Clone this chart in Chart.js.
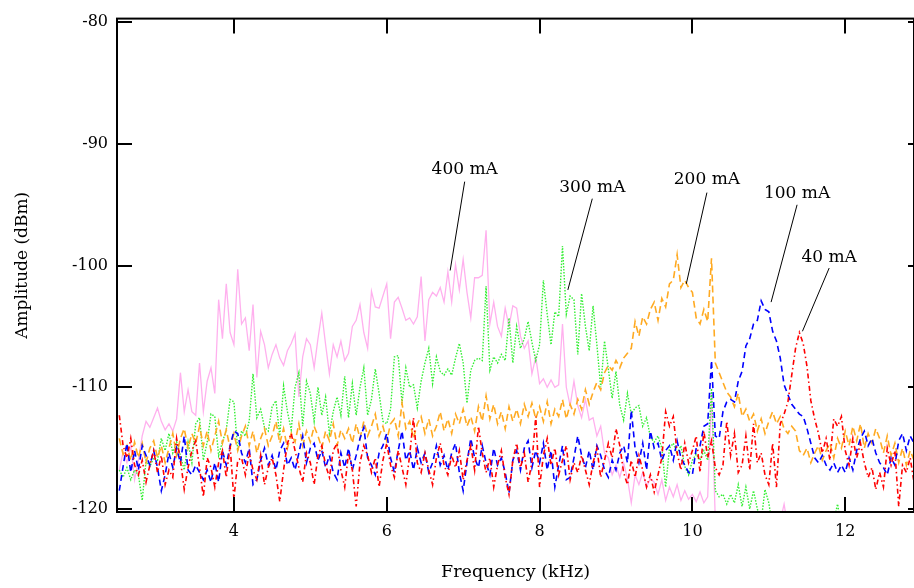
<!DOCTYPE html>
<html lang="en">
<head>
    <meta charset="UTF-8">
    <title>Amplitude vs Frequency</title>
    <script src="https://cdn.jsdelivr.net/npm/chart.js"></script>
    <style>
        html, body {
            margin: 0;
            padding: 0;
            background: #fff;
        }
        #chartBox {
            width: 914px;
            height: 588px;
        }
    </style>
</head>
<body>
    <div id="chartBox">
        <canvas id="spectrumChart"></canvas>
    </div>

    <script>
        // frequency axis of the sweep (kHz), 0.05 kHz per sample
        const freqStart = 2.5;
        const freqStep = 0.05;
        const freqCount = 209;

        const xTickValues = [4, 6, 8, 10, 12];
        const yTickValues = [-80, -90, -100, -110, -120];

        const seriesNames = ['40 mA', '100 mA', '200 mA', '300 mA', '400 mA'];

        // amplitudes in dBm, one row per 0.5 kHz
        const amp40 = [
            -112.3, -114.8, -115.8, -114.2, -116.4, -117.2, -116.0, -117.8, -116.4, -115.2,
            -117.0, -115.6, -118.0, -116.8, -117.4, -114.2, -116.0, -118.4, -116.6, -115.2,
            -114.4, -116.6, -119.0, -115.8, -116.6, -118.2, -116.2, -115.2, -117.4, -114.8,
            -119.2, -116.0, -115.8, -117.2, -115.4, -116.8, -117.6, -115.6, -118.0, -116.6,
            -115.8, -117.2, -119.4, -116.8, -114.6, -113.8, -115.2, -116.6, -117.8, -115.4,
            -116.2, -118.0, -115.6, -114.8, -116.4, -117.4, -115.2, -114.6, -116.8, -118.2,
            -115.4, -116.8, -119.8, -116.2, -114.8, -115.6, -117.0, -115.8, -118.2, -116.0,
            -114.6, -116.4, -117.4, -115.2, -116.6, -118.0, -115.6, -112.5, -116.2, -117.0,
            -115.4, -116.8, -118.0, -115.8, -114.6, -116.4, -117.2, -115.6, -116.6, -115.2,
            -117.6, -116.0, -114.8, -116.8, -113.2, -115.4, -117.0, -115.8, -118.2, -116.4,
            -115.2, -117.4, -118.8, -116.0, -114.6, -116.6, -115.4, -117.8, -116.2, -112.4,
            -118.2, -115.6, -114.2, -116.4, -115.0, -117.2, -116.0, -114.8, -117.6, -116.2,
            -117.0, -115.6, -116.8, -118.0, -116.2, -115.0, -117.4, -116.0, -114.6, -115.8,
            -113.4, -114.8, -117.0, -118.0, -116.0, -117.4, -115.6, -116.8, -118.2, -117.2,
            -118.6, -117.2, -115.8, -112.0, -113.2, -112.4, -115.4, -116.8, -114.6, -116.2,
            -115.2, -114.0, -117.0, -113.6, -115.8, -114.4, -116.6, -117.2, -116.4, -112.8,
            -115.6, -113.8, -117.0, -116.4, -114.0, -116.8, -113.0, -116.2, -115.4, -117.2,
            -118.0, -114.6, -118.2, -113.0, -112.2, -111.2, -109.0, -106.8, -105.5, -106.4,
            -108.3, -111.1, -112.6, -113.8, -115.4, -114.2, -116.0, -112.6, -113.2, -112.4,
            -115.2, -116.4, -114.2, -115.8, -114.6, -116.2, -117.4, -116.6, -118.4, -117.0,
            -118.2, -115.0, -116.4, -115.2, -119.8, -116.4, -117.0, -115.8, -117.8
        ];

        const amp100 = [
            -118.5, -116.5, -114.6, -117.0, -115.2, -116.8, -114.8, -115.6, -116.4, -115.2,
            -116.6, -118.5, -117.2, -115.4, -116.6, -115.0, -116.2, -114.0, -116.8, -117.2,
            -116.4, -117.0, -117.6, -116.8, -117.8, -116.2, -117.8, -115.2, -116.4, -114.8,
            -113.6, -113.8, -115.4, -116.2, -115.0, -118.0, -117.6, -116.0, -115.0, -116.4,
            -115.6, -116.8, -115.2, -114.6, -116.4, -115.8, -116.8, -115.4, -114.0, -116.2,
            -115.0, -114.6, -116.0, -115.2, -116.6, -115.6, -117.0, -117.6, -115.4, -116.6,
            -115.0, -116.8, -115.6, -114.2, -113.3, -115.8, -116.4, -117.2, -115.4, -114.8,
            -113.8, -115.8, -117.0, -115.2, -113.6, -116.0, -115.2, -116.8, -115.0, -116.2,
            -115.4, -117.0, -116.2, -114.8, -116.4, -115.6, -116.8, -115.4, -114.6, -117.0,
            -118.5, -116.2, -114.2, -115.8, -116.6, -114.8, -116.2, -117.2, -115.0, -116.4,
            -115.8, -117.0, -118.7, -116.0, -115.2, -116.8, -115.0, -114.4, -116.6, -115.2,
            -116.2, -114.6, -116.8, -115.2, -118.2, -116.4, -114.8, -117.6, -117.4, -115.8,
            -114.0, -115.6, -116.6, -115.2, -116.8, -114.8, -115.6, -116.8, -117.4, -116.0,
            -116.8, -115.4, -114.8, -116.2, -111.9, -115.0, -116.2, -114.6, -116.8, -113.6,
            -115.0, -114.6, -116.0, -115.2, -114.8, -116.0, -114.4, -115.8, -116.4, -117.0,
            -117.2, -115.0, -114.8, -113.2, -113.0, -107.8, -114.0, -114.2, -112.0, -111.2,
            -111.0, -111.2, -109.5, -108.7, -106.6, -106.0, -104.8, -104.5, -102.9, -103.6,
            -103.8, -105.4, -106.2, -107.6, -109.8, -110.6, -111.4, -111.8, -112.2, -112.4,
            -113.4, -114.6, -115.8, -116.2, -115.6, -116.4, -116.8, -116.2, -117.0, -116.4,
            -117.0, -115.8, -116.8, -115.2, -114.2, -113.6, -114.8, -114.2, -115.4, -116.2,
            -116.6, -117.2, -115.8, -116.4, -114.4, -113.8, -115.2, -114.0, -114.6
        ];

        const amp200 = [
            -114.2, -115.5, -114.8, -116.0, -114.5, -115.8, -114.6, -116.2, -115.0, -114.4,
            -115.8, -114.8, -116.2, -115.0, -113.8, -115.6, -114.2, -113.4, -115.0, -113.8,
            -114.6, -113.2, -114.8, -113.6, -115.2, -114.0, -112.8, -114.6, -113.5, -115.0,
            -113.8, -115.2, -114.0, -113.2, -114.8, -113.6, -115.4, -114.2, -113.4, -114.8,
            -114.0, -112.8, -114.6, -113.4, -115.0, -113.8, -114.5, -113.0, -114.8, -113.6,
            -114.5, -113.2, -114.0, -115.0, -113.6, -114.4, -113.0, -114.8, -113.5, -114.2,
            -113.4, -114.6, -113.0, -114.2, -112.8, -114.0, -113.2, -112.2, -114.0, -113.2,
            -114.4, -113.0, -112.6, -114.0, -111.3, -113.4, -112.8, -114.2, -113.0, -112.4,
            -113.8, -112.6, -114.0, -113.2, -112.0, -113.6, -112.6, -113.8, -112.2, -113.0,
            -111.8, -113.2, -112.4, -113.6, -111.6, -112.8, -110.7, -112.6, -111.4, -113.0,
            -112.0, -113.4, -111.6, -112.8, -111.8, -113.0, -111.4, -112.4, -111.3, -112.6,
            -111.6, -112.8, -111.2, -113.0, -111.8, -112.4, -111.0, -112.6, -111.4, -112.2,
            -111.0, -111.8, -110.2, -111.4, -110.4, -109.6, -110.2, -108.8, -108.2, -108.6,
            -107.8, -108.4, -107.6, -107.2, -106.8, -104.6, -105.8, -104.2, -104.8, -103.6,
            -103.0, -104.5, -102.7, -103.4, -101.5, -101.2, -99.1, -101.8, -101.2, -101.8,
            -102.2, -104.3, -104.8, -103.6, -104.6, -99.4, -108.0, -108.8, -109.6, -110.4,
            -110.8, -111.6, -110.5, -112.4, -111.8, -112.8, -112.2, -113.6, -112.6, -113.8,
            -112.8, -112.0, -113.0, -112.4, -113.4, -113.8, -113.2, -113.6, -115.2, -115.6,
            -115.0, -116.2, -115.4, -114.8, -116.0, -115.2, -114.6, -115.8, -114.2, -115.0,
            -113.6, -114.8, -113.2, -114.4, -113.0, -115.0, -113.8, -114.6, -113.4, -114.2,
            -115.4, -114.0, -115.6, -114.6, -116.2, -115.0, -116.4, -115.2, -116.0
        ];

        const amp300 = [
            -116.8, -117.4, -116.6, -117.6, -116.8, -117.2, -119.3, -116.0, -116.5, -115.8,
            -116.0, -114.2, -115.2, -113.8, -115.4, -114.5, -115.6, -116.8, -114.5, -116.2,
            -113.0, -112.5, -116.0, -114.5, -112.2, -112.4, -115.6, -114.5, -113.5, -111.0,
            -111.2, -115.2, -113.6, -114.0, -112.8, -108.9, -112.5, -111.8, -113.3, -113.6,
            -111.6, -111.1, -114.0, -109.9, -112.0, -113.5, -110.0, -108.8, -113.2, -109.5,
            -110.5, -112.8, -110.0, -112.3, -110.8, -113.8, -112.0, -110.8, -112.3, -109.1,
            -112.5, -109.7, -112.3, -110.0, -108.4, -112.3, -111.0, -108.5, -110.5, -112.8,
            -113.0, -111.8, -107.5, -107.4, -111.3, -108.4, -110.0, -109.8, -111.7, -109.5,
            -108.0, -106.8, -109.7, -107.5, -108.7, -109.0, -108.5, -109.0, -107.6, -106.4,
            -108.0, -111.3, -108.6, -107.8, -107.6, -107.8, -101.7, -108.6, -107.5, -108.0,
            -107.3, -107.8, -104.3, -108.0, -105.0, -106.8, -106.0, -104.6, -106.3, -107.8,
            -106.5, -101.2, -104.0, -106.5, -103.8, -104.2, -98.4, -104.0, -102.5, -102.8,
            -107.3, -102.3, -105.0, -107.0, -103.3, -106.5, -110.0, -106.2, -108.5, -110.9,
            -108.7, -111.5, -112.7, -110.5, -112.2, -111.7, -111.5, -113.2, -112.5, -114.1,
            -114.5, -114.0, -115.0, -118.2, -115.0, -114.6, -115.5, -114.8, -116.5, -117.2,
            -116.0, -115.5, -116.0, -115.2, -116.0, -110.1, -118.5, -119.0, -118.8, -119.6,
            -118.8, -119.5, -118.0, -119.8, -118.2, -120.0, -118.5, -120.0, -121.0, -118.4,
            -119.5, -121.5, -121.0, -121.5, -121.0, -121.5, -121.0, -121.5, -121.0, -121.5,
            -121.5, -121.0, -121.5, -121.0, -121.5, -121.0, -121.5, -121.0, -119.6, -121.5,
            -121.5, -121.0, -121.5, -121.0, -121.5, -121.0, -121.5, -121.0, -121.5, -121.0,
            -121.5, -121.0, -121.5, -121.0, -121.5, -121.0, -121.5, -121.0, -121.5
        ];

        const amp400 = [
            -116.8, -115.3, -116.2, -114.8, -117.6, -116.0, -114.0, -112.8, -113.3, -112.5,
            -111.7, -112.8, -113.5, -113.0, -113.6, -112.6, -108.8, -112.0, -110.2, -112.0,
            -112.3, -108.0, -112.0, -109.5, -108.4, -110.5, -102.8, -106.0, -101.5, -105.5,
            -106.5, -100.3, -104.8, -104.3, -107.0, -103.2, -109.2, -105.4, -106.5, -108.4,
            -107.3, -106.5, -107.6, -108.2, -107.0, -106.4, -105.6, -110.8, -107.5, -106.0,
            -106.5, -108.4, -106.0, -103.9, -106.5, -108.9, -106.5, -107.5, -106.2, -107.8,
            -107.2, -105.0, -104.5, -103.2, -105.5, -106.8, -102.1, -103.4, -103.5, -102.5,
            -101.5, -106.0, -103.0, -102.6, -103.5, -104.5, -104.3, -104.8, -104.2, -100.9,
            -106.2, -102.8, -102.2, -102.5, -101.8, -103.0, -100.5, -103.0, -99.9, -102.0,
            -99.5, -102.2, -104.3, -101.0, -101.0, -100.8, -97.1, -104.8, -103.0, -105.0,
            -105.8, -103.5, -105.0, -103.3, -103.5, -105.8, -106.8, -106.2, -108.9, -107.5,
            -109.7, -109.3, -110.0, -109.4, -110.0, -109.8, -104.8, -110.0, -111.5, -109.5,
            -111.5, -112.5, -111.0, -112.7, -112.5, -114.0, -113.2, -115.4, -115.8, -117.2,
            -116.4, -117.4, -116.2, -117.5, -119.5, -117.2, -118.0, -117.0, -118.2, -117.5,
            -117.8, -118.8, -117.6, -119.3, -118.2, -119.0, -118.0, -119.3, -118.5, -119.2,
            -118.8, -119.4, -118.6, -119.5, -119.0, -110.5, -121.0, -121.5, -121.0, -121.5,
            -121.5, -121.0, -121.5, -121.0, -121.5, -121.0, -121.5, -121.0, -121.5, -121.0,
            -121.5, -121.0, -121.5, -121.0, -119.6, -121.5, -121.0, -121.5, -121.0, -121.5,
            -121.5, -121.0, -121.5, -121.0, -121.5, -121.0, -121.5, -121.0, -121.5, -121.0,
            -121.5, -121.0, -121.5, -121.0, -121.5, -121.0, -121.5, -121.0, -121.5, -121.0,
            -121.5, -121.0, -121.5, -121.0, -121.5, -121.0, -121.5, -121.0, -121.5
        ];

        const freqs = [];
        for (let i = 0; i < freqCount; i++) {
            freqs.push(+(freqStart + i * freqStep).toFixed(2));
        }

        // callout text and leader line, in data units (kHz, dBm)
        const callouts = [
            { text: '400 mA', tx: 7.02, ty: -92.1, x1: 7.02, y1: -93.1, x2: 6.83, y2: -100.4 },
            { text: '300 mA', tx: 8.69, ty: -93.6, x1: 8.69, y1: -94.5, x2: 8.37, y2: -102.0 },
            { text: '200 mA', tx: 10.19, ty: -92.9, x1: 10.19, y1: -94.0, x2: 9.92, y2: -101.5 },
            { text: '100 mA', tx: 11.37, ty: -94.1, x1: 11.37, y1: -95.0, x2: 11.03, y2: -103.0 },
            { text: '40 mA', tx: 11.79, ty: -99.3, x1: 11.79, y1: -100.2, x2: 11.44, y2: -105.4 }
        ];

        const FONT = "'DejaVu Serif', 'Liberation Serif', serif";
        const TICK_LEN = 15;

        const toPoints = vals => vals.map((v, i) => ({ x: freqs[i], y: v }));

        // inward ticks on all four sides, the frame, and the callouts
        const framePlugin = {
            id: 'framePlugin',
            afterDatasetsDraw(chart) {
                const { ctx, chartArea: a, scales: { x, y } } = chart;
                ctx.save();
                ctx.strokeStyle = '#000';
                ctx.lineWidth = 2;
                ctx.strokeRect(a.left, a.top, a.right - a.left, a.bottom - a.top);

                ctx.beginPath();
                xTickValues.forEach(v => {
                    const px = Math.round(x.getPixelForValue(v));
                    ctx.moveTo(px, a.bottom);
                    ctx.lineTo(px, a.bottom - TICK_LEN);
                    ctx.moveTo(px, a.top);
                    ctx.lineTo(px, a.top + TICK_LEN);
                });
                yTickValues.forEach(v => {
                    const py = Math.round(y.getPixelForValue(v));
                    ctx.moveTo(a.left, py);
                    ctx.lineTo(a.left + TICK_LEN, py);
                    ctx.moveTo(a.right, py);
                    ctx.lineTo(a.right - 6, py);
                });
                ctx.stroke();

                ctx.lineWidth = 1;
                ctx.fillStyle = '#000';
                ctx.font = '17px ' + FONT;
                ctx.textAlign = 'center';
                ctx.textBaseline = 'middle';
                callouts.forEach(c => {
                    ctx.beginPath();
                    ctx.moveTo(x.getPixelForValue(c.x1), y.getPixelForValue(c.y1));
                    ctx.lineTo(x.getPixelForValue(c.x2), y.getPixelForValue(c.y2));
                    ctx.stroke();
                    ctx.fillText(c.text, x.getPixelForValue(c.tx), y.getPixelForValue(c.ty));
                });
                ctx.restore();
            }
        };

        const ctx = document.getElementById('spectrumChart').getContext('2d');
        new Chart(ctx, {
            type: 'line',
            data: {
                datasets: [
                    {
                        label: seriesNames[0],
                        data: toPoints(amp40),
                        borderColor: '#ff0000',
                        borderWidth: 1.6,
                        borderDash: [5, 3, 1.5, 3]
                    },
                    {
                        label: seriesNames[1],
                        data: toPoints(amp100),
                        borderColor: '#0000ff',
                        borderWidth: 1.6,
                        borderDash: [6, 4]
                    },
                    {
                        label: seriesNames[2],
                        data: toPoints(amp200),
                        borderColor: '#ffaa22',
                        borderWidth: 1.6,
                        borderDash: [7, 4]
                    },
                    {
                        label: seriesNames[3],
                        data: toPoints(amp300),
                        borderColor: '#33ee33',
                        borderWidth: 1.4,
                        borderDash: [1.5, 1.5]
                    },
                    {
                        label: seriesNames[4],
                        data: toPoints(amp400),
                        borderColor: '#ffb0ee',
                        borderWidth: 1.3
                    }
                ]
            },
            options: {
                responsive: true,
                maintainAspectRatio: false,
                animation: false,
                layout: {
                    padding: { top: 15, right: 0, bottom: 0, left: 0 }
                },
                elements: {
                    point: { radius: 0 },
                    line: { tension: 0, fill: false }
                },
                plugins: {
                    legend: { display: false },
                    tooltip: { enabled: false }
                },
                scales: {
                    x: {
                        type: 'linear',
                        min: 2.47,
                        max: 12.9,
                        afterBuildTicks: scale => {
                            scale.ticks = xTickValues.map(v => ({ value: v }));
                        },
                        afterFit: scale => { scale.height = 76; },
                        grid: { display: false, drawTicks: false },
                        border: { display: false },
                        ticks: {
                            padding: 10,
                            maxRotation: 0,
                            color: '#000',
                            font: { family: FONT, size: 16 }
                        },
                        title: {
                            display: true,
                            text: 'Frequency (kHz)',
                            color: '#000',
                            font: { family: FONT, size: 17.5 },
                            padding: { top: 0, bottom: 5 }
                        }
                    },
                    y: {
                        min: -120.25,
                        max: -79.7,
                        afterBuildTicks: scale => {
                            scale.ticks = yTickValues.map(v => ({ value: v }));
                        },
                        afterFit: scale => { scale.width = 117; },
                        grid: { display: false, drawTicks: false },
                        border: { display: false },
                        ticks: {
                            padding: 9,
                            color: '#000',
                            font: { family: FONT, size: 16 }
                        },
                        title: {
                            display: true,
                            text: 'Amplitude (dBm)',
                            color: '#000',
                            font: { family: FONT, size: 17 },
                            padding: { top: 12, bottom: 0 }
                        }
                    }
                }
            },
            plugins: [framePlugin]
        });
    </script>
</body>
</html>
